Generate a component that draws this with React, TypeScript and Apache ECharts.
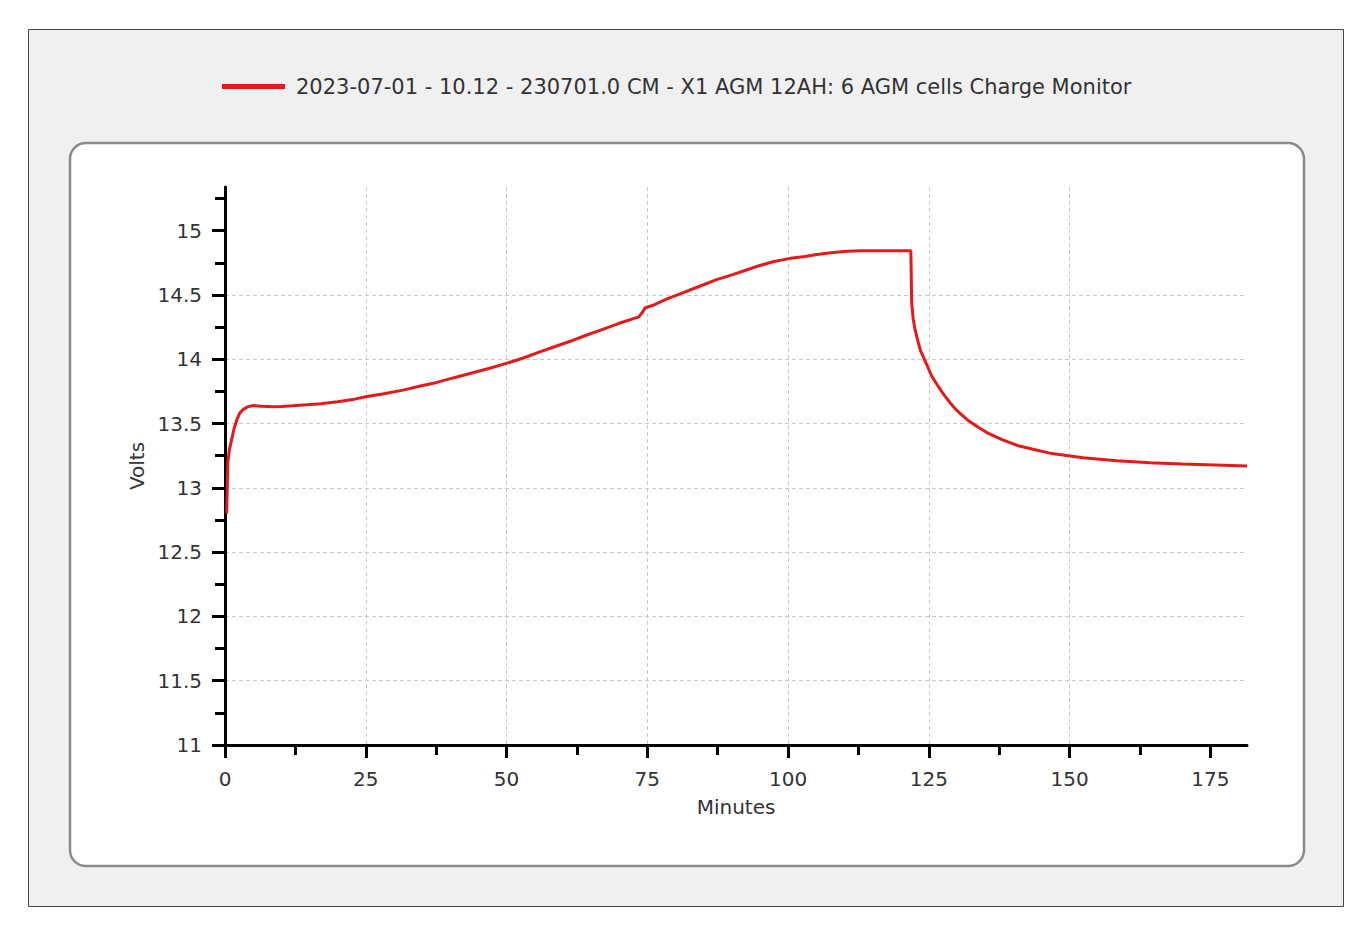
import React, { useEffect, useRef } from "react";
import * as echarts from "echarts";

const seriesName = "2023-07-01 - 10.12 - 230701.0 CM - X1 AGM 12AH: 6 AGM cells Charge Monitor";

const minutes = [
  0.3, 0.4, 0.5, 0.8, 1.2, 1.6, 2.1, 2.6, 3.2, 4.0, 5.0, 6.5, 8.5, 10, 12, 14, 17, 20, 23, 25.2,
  28, 31.6, 34.5, 37.6, 40.5, 43.5, 47, 50.1, 53, 55.4, 58, 61.3, 64, 67.2, 70, 73.5, 74.2, 74.6,
  76, 78.5, 81.5, 84.4, 87.3, 90.3, 93, 95, 97.5, 100.4, 103, 105.1, 108, 110.5, 113, 116, 119,
  121.8, 121.95, 122.2, 122.5, 123, 123.5, 124.7, 125.5, 126.5, 127.5, 128.8, 130, 131.8, 133.5,
  135.3, 138, 140.7, 143.5, 146.5, 152.4, 158.4, 164.3, 170, 174.4, 181.5,
];

const volts = [
  12.8, 13.0, 13.2, 13.3, 13.38, 13.46, 13.53, 13.58, 13.61, 13.63, 13.64, 13.635, 13.63, 13.632,
  13.638, 13.645, 13.655, 13.67, 13.69, 13.71, 13.73, 13.76, 13.79, 13.82, 13.855, 13.89, 13.93,
  13.97, 14.01, 14.05, 14.09, 14.14, 14.185, 14.235, 14.28, 14.33, 14.37, 14.4, 14.42, 14.47,
  14.52, 14.57, 14.62, 14.66, 14.7, 14.73, 14.76, 14.785, 14.8, 14.815, 14.83, 14.84, 14.845,
  14.845, 14.845, 14.845, 14.44, 14.32, 14.24, 14.15, 14.07, 13.95, 13.87, 13.8, 13.735, 13.66,
  13.6, 13.53, 13.48, 13.43, 13.375, 13.33, 13.3, 13.27, 13.235, 13.21, 13.195, 13.185, 13.18,
  13.17,
];

const xTicks = [0, 25, 50, 75, 100, 125, 150, 175];
const yTicks = [11, 11.5, 12, 12.5, 13, 13.5, 14, 14.5, 15];

const FONT = "'DejaVu Sans', sans-serif";
const TEXT = "#333333";

export default function App() {
  const ref = useRef<HTMLDivElement>(null);

  useEffect(() => {
    if (!ref.current) return;
    const chart = echarts.init(ref.current, undefined, { renderer: "svg" });
    const data = minutes.map((m, i) => [m, volts[i]]);
    chart.setOption({
      animation: false,
      backgroundColor: "#ffffff",
      textStyle: { fontFamily: FONT },
      graphic: {
        elements: [
          {
            type: "rect",
            z: -10,
            silent: true,
            shape: { x: 28.5, y: 29.5, width: 1315, height: 877 },
            style: { fill: "#f0f0f0", stroke: "#454545", lineWidth: 1 },
          },
          {
            type: "rect",
            z: -9,
            silent: true,
            shape: { x: 70, y: 143, width: 1234, height: 723, r: 16 },
            style: { fill: "#ffffff", stroke: "#8a8a8a", lineWidth: 2.5 },
          },
        ],
      },
      legend: {
        left: 217,
        top: 71,
        icon: "rect",
        itemWidth: 63,
        itemHeight: 5,
        textStyle: { fontSize: 21, color: TEXT, fontFamily: FONT, padding: [0, 0, 0, 6] },
        data: [seriesName],
      },
      grid: { left: 225, right: 119, top: 187, bottom: 189, containLabel: false },
      xAxis: {
        type: "value",
        min: 0,
        max: 181.5,
        interval: 25,
        name: "Minutes",
        nameLocation: "middle",
        nameGap: 52,
        nameTextStyle: { fontSize: 20, color: TEXT, fontFamily: FONT },
        axisLine: { show: true, onZero: false, lineStyle: { color: "#000", width: 3 } },
        axisTick: { show: true, length: 13, lineStyle: { color: "#000", width: 3 }, customValues: xTicks },
        minorTick: { show: true, splitNumber: 2, length: 10, lineStyle: { color: "#000", width: 3 } },
        axisLabel: { fontSize: 20, color: TEXT, fontFamily: FONT, margin: 24, customValues: xTicks },
        splitLine: {
          show: true,
          showMaxLine: false,
          lineStyle: { color: "#c8c8c8", type: [4, 3], width: 1 },
        },
      },
      yAxis: {
        type: "value",
        min: 11,
        max: 15.34,
        interval: 0.5,
        name: "Volts",
        nameLocation: "middle",
        nameGap: 72,
        nameTextStyle: { fontSize: 20, color: TEXT, fontFamily: FONT },
        axisLine: { show: true, onZero: false, lineStyle: { color: "#000", width: 3 } },
        axisTick: { show: true, length: 13, lineStyle: { color: "#000", width: 3 }, customValues: yTicks },
        minorTick: { show: true, splitNumber: 2, length: 10, lineStyle: { color: "#000", width: 3 } },
        axisLabel: { fontSize: 20, color: TEXT, fontFamily: FONT, margin: 23, customValues: yTicks },
        splitLine: {
          show: true,
          showMaxLine: false,
          lineStyle: { color: "#c8c8c8", type: [4, 3], width: 1 },
        },
      },
      series: [
        {
          name: seriesName,
          type: "line",
          data,
          showSymbol: false,
          symbol: "none",
          color: "#e41a1a",
          lineStyle: { color: "#e41a1a", width: 3 },
          z: 3,
        },
      ],
    });
    return () => chart.dispose();
  }, []);

  return (
    <div
      ref={ref}
      style={{ position: "absolute", left: 0, top: 0, width: 1366, height: 934 }}
    />
  );
}
